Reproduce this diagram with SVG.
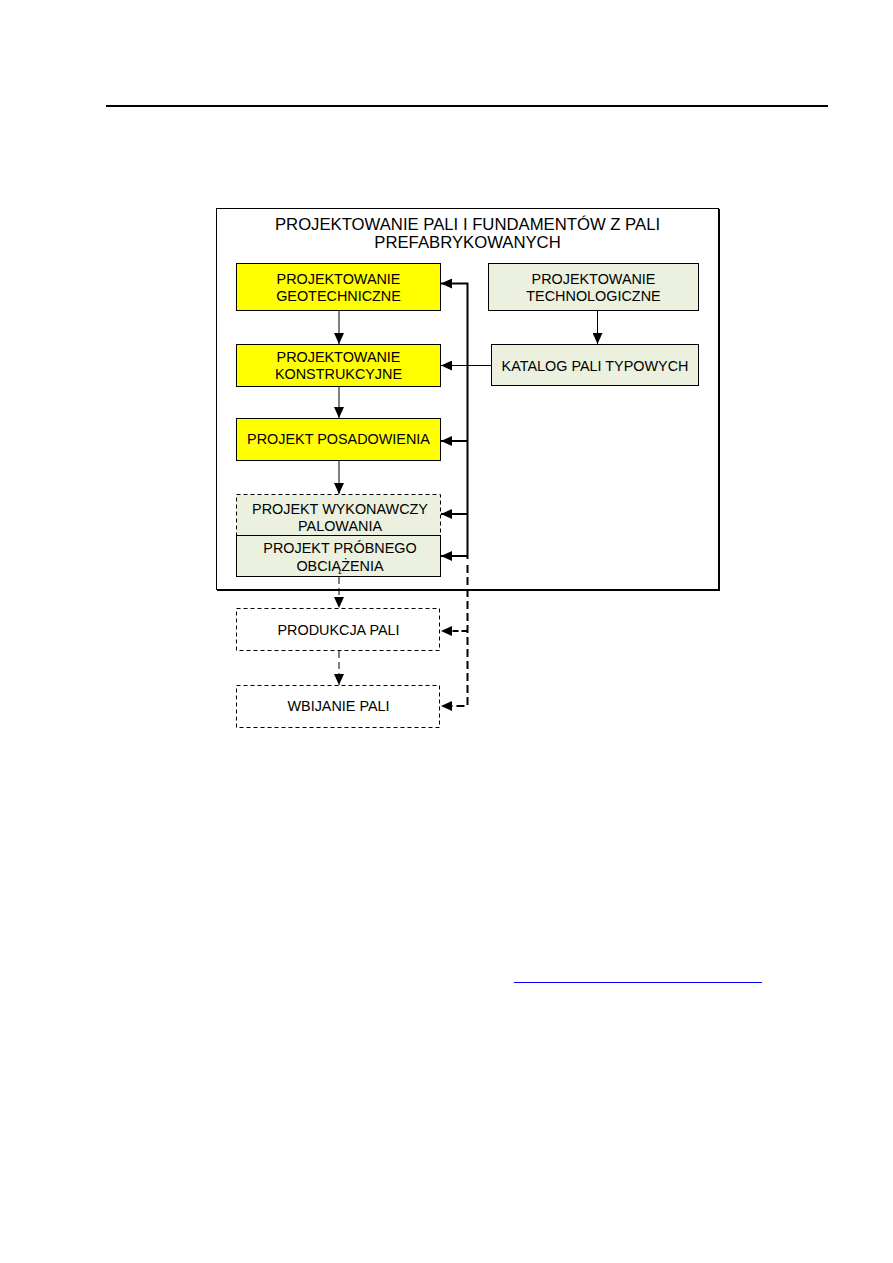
<svg xmlns="http://www.w3.org/2000/svg" width="893" height="1263" viewBox="0 0 893 1263">
  <defs>
    <marker id="ah" markerUnits="userSpaceOnUse" markerWidth="12" markerHeight="10" refX="11" refY="5" orient="auto">
      <path d="M0,0 L11,5 L0,10 Z" fill="#000"/>
    </marker>
    <style>
      text { font-family: "Liberation Sans", Arial, sans-serif; fill: #000; text-anchor: middle; }
      .t { font-size: 14.4px; }
      .title { font-size: 16.7px; }
      .box { stroke: #000; stroke-width: 1; }
      .yel { fill: #ffff00; }
      .grn { fill: #ebf1de; }
      .wht { fill: #ffffff; }
      .dash { stroke-dasharray: 4 3; }
      .c { fill: none; stroke: #000; stroke-width: 1; }
      .thick { stroke-width: 2; }
      .cd { stroke-dasharray: 7 4; }
    </style>
  </defs>
  <rect width="893" height="1263" fill="#fff"/>
  <line x1="106" y1="106" x2="828" y2="106" stroke="#000" stroke-width="2"/>
  <line x1="514" y1="982.5" x2="762" y2="982.5" stroke="#0000ff" stroke-width="1"/>

  <g id="frame">
    <rect x="216.5" y="208.5" width="502" height="381" fill="#fff" stroke="#000" stroke-width="1"/>
    <path d="M719,209 V590 H217" fill="none" stroke="#000" stroke-width="2"/>
    <text class="title" x="467.5" y="229.5">PROJEKTOWANIE PALI I FUNDAMENTÓW Z PALI</text>
    <text class="title" x="467.5" y="248">PREFABRYKOWANYCH</text>
  </g>

  <g id="geotech">
    <rect class="box yel" x="236.5" y="263.5" width="204" height="47"/>
    <text class="t" x="338.5" y="284">PROJEKTOWANIE</text>
    <text class="t" x="338.5" y="300.5">GEOTECHNICZNE</text>
  </g>
  <g id="tech">
    <rect class="box grn" x="488.5" y="263.5" width="210" height="47"/>
    <text class="t" x="593.5" y="284">PROJEKTOWANIE</text>
    <text class="t" x="593.5" y="300.5">TECHNOLOGICZNE</text>
  </g>
  <g id="konstr">
    <rect class="box yel" x="236.5" y="344.5" width="204" height="42"/>
    <text class="t" x="338.5" y="362">PROJEKTOWANIE</text>
    <text class="t" x="338.5" y="379">KONSTRUKCYJNE</text>
  </g>
  <g id="katalog">
    <rect class="box grn" x="491.5" y="344.5" width="207" height="41"/>
    <text class="t" x="595" y="370.5">KATALOG PALI TYPOWYCH</text>
  </g>
  <g id="posad">
    <rect class="box yel" x="236.5" y="418.5" width="204" height="42"/>
    <text class="t" x="338.5" y="443.5">PROJEKT POSADOWIENIA</text>
  </g>
  <g id="wykon">
    <rect class="box grn dash" x="236.5" y="494.5" width="204" height="41"/>
    <text class="t" x="340" y="513.5">PROJEKT WYKONAWCZY</text>
    <text class="t" x="340" y="531">PALOWANIA</text>
  </g>
  <g id="probne">
    <rect class="box grn" x="236.5" y="535.5" width="204" height="41"/>
    <text class="t" x="340" y="553">PROJEKT PRÓBNEGO</text>
    <text class="t" x="340" y="571">OBCIĄŻENIA</text>
  </g>
  <g id="produkcja">
    <rect class="box wht dash" x="236.5" y="608.5" width="203" height="42"/>
    <text class="t" x="338.5" y="635">PRODUKCJA PALI</text>
  </g>
  <g id="wbijanie">
    <rect class="box wht dash" x="236.5" y="685.5" width="203" height="42"/>
    <text class="t" x="338.5" y="711">WBIJANIE PALI</text>
  </g>

  <g id="connectors">
    <line class="c" x1="339" y1="311" x2="339" y2="344" marker-end="url(#ah)"/>
    <line class="c" x1="339" y1="387" x2="339" y2="418" marker-end="url(#ah)"/>
    <line class="c" x1="339" y1="461" x2="339" y2="494" marker-end="url(#ah)"/>
    <line class="c cd" x1="339" y1="577" x2="339" y2="608" marker-end="url(#ah)"/>
    <line class="c cd" x1="339" y1="651" x2="339" y2="685" marker-end="url(#ah)"/>
    <line class="c" x1="597.5" y1="311" x2="597.5" y2="344" marker-end="url(#ah)"/>
    <line class="c" x1="491" y1="365.5" x2="441" y2="365.5" marker-end="url(#ah)"/>
    <path class="c thick" d="M441,283.5 H467.5 V559"/>
    <line class="c" x1="466.5" y1="283.5" x2="441" y2="283.5" marker-end="url(#ah)"/>
    <line class="c thick" x1="467.5" y1="441" x2="441" y2="441" marker-end="url(#ah)"/>
    <line class="c thick" x1="467.5" y1="514" x2="441" y2="514" marker-end="url(#ah)"/>
    <line class="c thick" x1="467.5" y1="556" x2="441" y2="556" marker-end="url(#ah)"/>
    <path class="c thick" d="M467.5,565 V706 H441" stroke-dasharray="8 4" marker-end="url(#ah)"/>
    <line class="c thick" x1="467.5" y1="631" x2="441" y2="631" stroke-dasharray="6 3" marker-end="url(#ah)"/>
  </g>
</svg>
